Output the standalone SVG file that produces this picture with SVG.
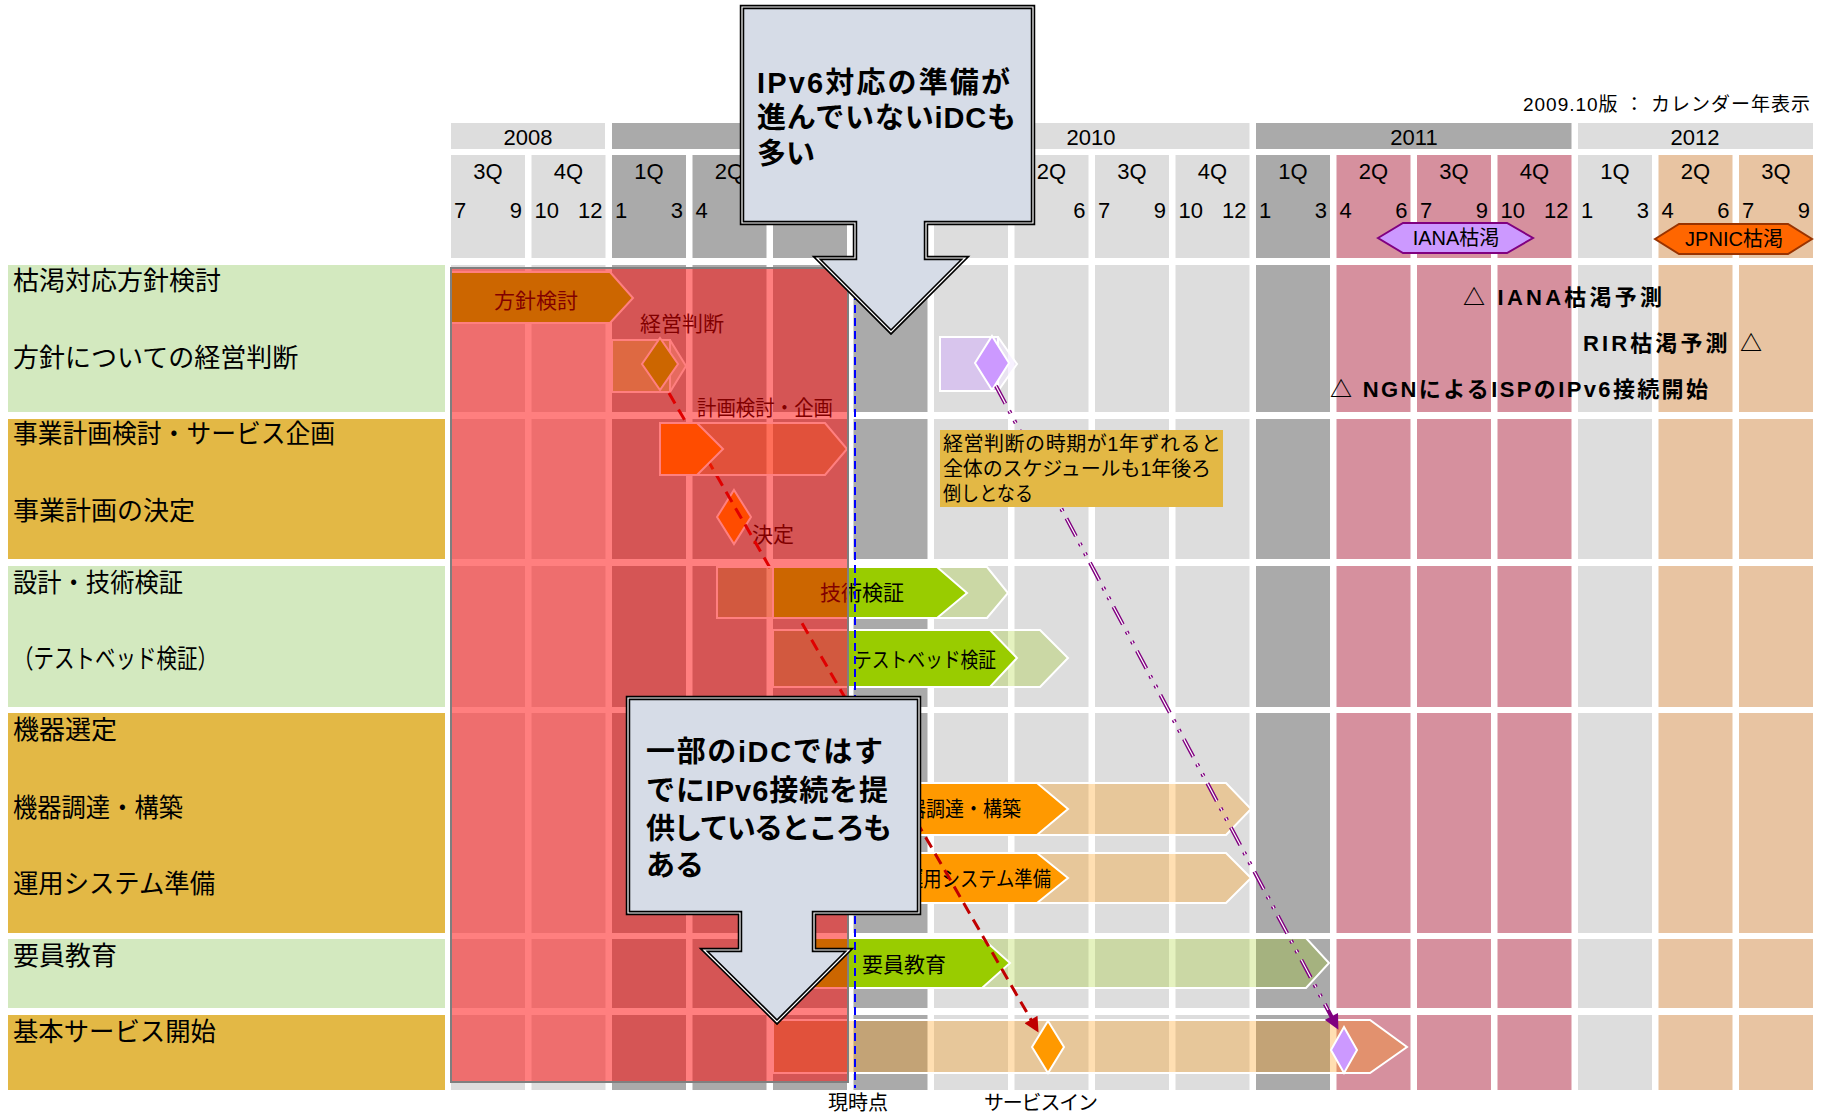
<svg xmlns="http://www.w3.org/2000/svg" width="1821" height="1114" viewBox="0 0 1821 1114">
<defs>
<style>
text{font-family:"Liberation Sans","Noto Sans CJK JP",sans-serif;fill:#000}
.hd{font-size:22px;text-anchor:middle}
.mo{font-size:22px}
.me{font-size:22px;text-anchor:end}
.lbl{font-size:26px}
.bar{font-size:21px}
.co{font-size:29px;font-weight:bold}
.ann{font-size:22px;font-weight:bold}
.L{fill:#DDDDDD}.D{fill:#AAAAAA}.P{fill:#D6909E}.E{fill:#E8C4A2}
.lg{fill:#D3E9BF}.gd{fill:#E3B845}
.sg{fill:#99CC00;stroke:#fff;stroke-width:2}
.tg{fill:#99CC00;fill-opacity:.25;stroke:#fff;stroke-width:2}
.so{fill:#FF9900;stroke:#fff;stroke-width:2}
.to{fill:#FF9600;fill-opacity:.3;stroke:#fff;stroke-width:2}
.dm{stroke:#fff;stroke-width:2}
.cf{fill:#D6DCE7;stroke:#000;stroke-width:4.5;stroke-linejoin:miter}
.ci{fill:none;stroke:#fff;stroke-width:1.2;stroke-linejoin:miter}
</style>
<marker id="arR" viewBox="0 0 10 10" refX="8" refY="5" markerWidth="17" markerHeight="15" markerUnits="userSpaceOnUse" orient="auto"><path d="M0,0 L10,5 L0,10 Z" fill="#C00000"/></marker>
<marker id="arP" viewBox="0 0 10 10" refX="8" refY="5" markerWidth="17" markerHeight="15" markerUnits="userSpaceOnUse" orient="auto"><path d="M0,0 L10,5 L0,10 Z" fill="#800080"/></marker>
</defs>
<rect width="1821" height="1114" fill="#fff"/>

<g id="title"><text x="1810" y="111" font-size="19" text-anchor="end" textLength="287">2009.10版 ： カレンダー年表示</text></g>

<g id="header">
<rect class="L" x="451" y="123" width="154" height="26"/>
<rect class="D" x="612" y="123" width="315.5" height="26"/>
<rect class="L" x="934" y="123" width="315.5" height="26"/>
<rect class="D" x="1256" y="123" width="315.5" height="26"/>
<rect class="L" x="1578" y="123" width="235" height="26"/>
<text class="hd" x="528" y="145">2008</text>
<text class="hd" x="1091" y="145">2010</text>
<text class="hd" x="1414" y="145">2011</text>
<text class="hd" x="1695" y="145">2012</text>
<rect class="L" x="451" y="155" width="74" height="103"/>
<rect class="L" x="531.5" y="155" width="74" height="103"/>
<rect class="D" x="612" y="155" width="74" height="103"/>
<rect class="D" x="692.5" y="155" width="74" height="103"/>
<rect class="D" x="773" y="155" width="74" height="103"/>
<rect class="D" x="853.5" y="155" width="74" height="103"/>
<rect class="L" x="934" y="155" width="74" height="103"/>
<rect class="L" x="1014.5" y="155" width="74" height="103"/>
<rect class="L" x="1095" y="155" width="74" height="103"/>
<rect class="L" x="1175.5" y="155" width="74" height="103"/>
<rect class="D" x="1256" y="155" width="74" height="103"/>
<rect class="P" x="1336.5" y="155" width="74" height="103"/>
<rect class="P" x="1417" y="155" width="74" height="103"/>
<rect class="P" x="1497.5" y="155" width="74" height="103"/>
<rect class="L" x="1578" y="155" width="74" height="103"/>
<rect class="E" x="1658.5" y="155" width="74" height="103"/>
<rect class="E" x="1739" y="155" width="74" height="103"/>
<text class="hd" x="488" y="179">3Q</text><text class="mo" x="454" y="218">7</text><text class="me" x="522" y="218">9</text>
<text class="hd" x="568.5" y="179">4Q</text><text class="mo" x="534.5" y="218">10</text><text class="me" x="602.5" y="218">12</text>
<text class="hd" x="649" y="179">1Q</text><text class="mo" x="615" y="218">1</text><text class="me" x="683" y="218">3</text>
<text class="hd" x="729.5" y="179">2Q</text><text class="mo" x="695.5" y="218">4</text>
<text class="hd" x="1051.5" y="179">2Q</text><text class="me" x="1085.5" y="218">6</text>
<text class="hd" x="1132" y="179">3Q</text><text class="mo" x="1098" y="218">7</text><text class="me" x="1166" y="218">9</text>
<text class="hd" x="1212.5" y="179">4Q</text><text class="mo" x="1178.5" y="218">10</text><text class="me" x="1246.5" y="218">12</text>
<text class="hd" x="1293" y="179">1Q</text><text class="mo" x="1259" y="218">1</text><text class="me" x="1327" y="218">3</text>
<text class="hd" x="1373.5" y="179">2Q</text><text class="mo" x="1339.5" y="218">4</text><text class="me" x="1407.5" y="218">6</text>
<text class="hd" x="1454" y="179">3Q</text><text class="mo" x="1420" y="218">7</text><text class="me" x="1488" y="218">9</text>
<text class="hd" x="1534.5" y="179">4Q</text><text class="mo" x="1500.5" y="218">10</text><text class="me" x="1568.5" y="218">12</text>
<text class="hd" x="1615" y="179">1Q</text><text class="mo" x="1581" y="218">1</text><text class="me" x="1649" y="218">3</text>
<text class="hd" x="1695.5" y="179">2Q</text><text class="mo" x="1661.5" y="218">4</text><text class="me" x="1729.5" y="218">6</text>
<text class="hd" x="1776" y="179">3Q</text><text class="mo" x="1742" y="218">7</text><text class="me" x="1810" y="218">9</text>
</g>

<g id="iana-depletion">
<path d="M1378,238 L1403,223 H1507 L1533,238 L1507,253 H1403 Z" fill="#CC99FF" stroke="#800080" stroke-width="2"/>
<text x="1456" y="245" font-size="20" text-anchor="middle">IANA枯渇</text>
</g>
<g id="jpnic-depletion">
<path d="M1655,239 L1679,224 H1788 L1812,239 L1788,254 H1679 Z" fill="#FF6600" stroke="#993300" stroke-width="2"/>
<text x="1734" y="246" font-size="20" text-anchor="middle">JPNIC枯渇</text>
</g>

<g id="row-labels">
<rect class="lg" x="8" y="265" width="437" height="147"/>
<rect class="gd" x="8" y="419" width="437" height="140"/>
<rect class="lg" x="8" y="566" width="437" height="141"/>
<rect class="gd" x="8" y="713" width="437" height="220"/>
<rect class="lg" x="8" y="939" width="437" height="69"/>
<rect class="gd" x="8" y="1015" width="437" height="75"/>
<text class="lbl" x="13" y="290">枯渇対応方針検討</text>
<text class="lbl" x="13" y="367">方針についての経営判断</text>
<text class="lbl" x="13" y="443" textLength="322" lengthAdjust="spacingAndGlyphs">事業計画検討・サービス企画</text>
<text class="lbl" x="13" y="520">事業計画の決定</text>
<text class="lbl" x="13" y="592" textLength="170" lengthAdjust="spacingAndGlyphs">設計・技術検証</text>
<text class="lbl" x="13" y="668" textLength="205" lengthAdjust="spacingAndGlyphs">（テストベッド検証）</text>
<text class="lbl" x="13" y="739">機器選定</text>
<text class="lbl" x="13" y="817" textLength="170" lengthAdjust="spacingAndGlyphs">機器調達・構築</text>
<text class="lbl" x="13" y="893" textLength="202" lengthAdjust="spacingAndGlyphs">運用システム準備</text>
<text class="lbl" x="13" y="965">要員教育</text>
<text class="lbl" x="13" y="1041" textLength="203" lengthAdjust="spacingAndGlyphs">基本サービス開始</text>
</g>

<g id="grid">
<rect class="L" x="451" y="265" width="74" height="825"/>
<rect class="L" x="531.5" y="265" width="74" height="825"/>
<rect class="D" x="612" y="265" width="74" height="825"/>
<rect class="D" x="692.5" y="265" width="74" height="825"/>
<rect class="D" x="773" y="265" width="74" height="825"/>
<rect class="D" x="853.5" y="265" width="74" height="825"/>
<rect class="L" x="934" y="265" width="74" height="825"/>
<rect class="L" x="1014.5" y="265" width="74" height="825"/>
<rect class="L" x="1095" y="265" width="74" height="825"/>
<rect class="L" x="1175.5" y="265" width="74" height="825"/>
<rect class="D" x="1256" y="265" width="74" height="825"/>
<rect class="P" x="1336.5" y="265" width="74" height="825"/>
<rect class="P" x="1417" y="265" width="74" height="825"/>
<rect class="P" x="1497.5" y="265" width="74" height="825"/>
<rect class="L" x="1578" y="265" width="74" height="825"/>
<rect class="E" x="1658.5" y="265" width="74" height="825"/>
<rect class="E" x="1739" y="265" width="74" height="825"/>
<g fill="#fff">
<rect x="451" y="412" width="1362" height="7"/>
<rect x="451" y="559" width="1362" height="7"/>
<rect x="451" y="707" width="1362" height="6"/>
<rect x="451" y="933" width="1362" height="6"/>
<rect x="451" y="1008" width="1362" height="7"/>
</g>
</g>

<g id="milestones-text">
<text class="ann" x="1463" y="305" textLength="199">△ IANA枯渇予測</text>
<text class="ann" x="1583" y="351" textLength="179">RIR枯渇予測 △</text>
<text class="ann" x="1330" y="397" textLength="378">△ NGNによるISPのIPv6接続開始</text>
</g>

<g id="policy-study">
<path class="sg" d="M451,272 H610 L633,298 L610,323 H451 Z"/>
<text class="bar" x="494" y="308">方針検討</text>
</g>
<g id="mgmt-decision">
<path d="M612,340 H670 L686,366 L670,392 H612 Z" fill="#EAF5D0" fill-opacity=".55" stroke="#fff" stroke-width="2"/>
<rect x="612" y="340" width="58" height="52" fill="#99CC00" fill-opacity=".3" stroke="#fff" stroke-width="2"/>
<path class="dm" d="M660,338 L678,364 L660,390 L642,364 Z" fill="#99CC00"/>
<text class="bar" x="640" y="331">経営判断</text>
</g>
<g id="mgmt-decision-delayed">
<path d="M940,337 H998 L1017,364 L998,391 H940 Z" fill="#F2E8FF" fill-opacity=".6" stroke="#fff" stroke-width="2"/>
<rect x="940" y="337" width="58" height="54" fill="#B98CE6" fill-opacity=".35" stroke="#fff" stroke-width="2"/>
<path class="dm" d="M992,336 L1009,363 L992,390 L975,363 Z" fill="#CC99FF"/>
</g>
<g id="decision">
<path class="dm" d="M734,490 L751,517 L734,544 L717,517 Z" fill="#FF9900"/>
<text class="bar" x="752" y="542">決定</text>
</g>
<g id="testbed">
<path class="tg" d="M773,630 H1040 L1068,658 L1040,687 H773 Z"/>
<path class="sg" d="M848,630 H990 L1017,658 L990,687 H848 Z"/>
<text class="bar" x="854" y="667" textLength="142" lengthAdjust="spacingAndGlyphs">テストベッド検証</text>
</g>
<g id="procurement">
<path class="to" d="M853,783 H1226 L1251,809 L1226,835 H853 Z"/>
<path class="so" d="M853,783 H1037 L1068,809 L1037,835 H853 Z"/>
<text class="bar" x="1021" y="816" text-anchor="end" textLength="133" lengthAdjust="spacingAndGlyphs">機器調達・構築</text>
</g>
<g id="ops-system">
<path class="to" d="M853,853 H1226 L1251,878 L1226,903 H853 Z"/>
<path class="so" d="M853,853 H1037 L1068,878 L1037,903 H853 Z"/>
<text class="bar" x="1051" y="886" text-anchor="end" textLength="146" lengthAdjust="spacingAndGlyphs">運用システム準備</text>
</g>
<g id="training">
<path class="tg" d="M773,938 H1306 L1329,963 L1306,988 H773 Z"/>
<path class="sg" d="M773,938 H982 L1010,963 L982,988 H773 Z"/>
<text class="bar" x="862" y="972">要員教育</text>
</g>
<g id="service-start">
<path class="to" d="M773,1020 H1370 L1407,1047 L1370,1073 H773 Z"/>
<path class="dm" d="M1048,1021 L1064,1047 L1048,1073 L1032,1047 Z" fill="#FF9900"/>
<path class="dm" d="M1344,1027 L1357,1050 L1344,1073 L1331,1050 Z" fill="#CC99FF"/>
</g>

<g id="connectors">
<path d="M669,393 L1037,1030" fill="none" stroke="#C00000" stroke-width="3" stroke-dasharray="12 7" marker-end="url(#arR)"/>
<path d="M996,386 L1337,1027" fill="none" stroke="#800080" stroke-width="4" stroke-dasharray="20 8 3 8 3 8" marker-end="url(#arP)"/>
<path d="M996,386 L1328,1010" fill="none" stroke="#fff" stroke-width="1.2" stroke-dasharray="20 8 3 8 3 8"/>
</g>

<g id="plan-study">
<path class="to" d="M660,423 H825 L847,449 L825,475 H660 Z"/>
<path class="so" d="M660,423 H697 L723,449 L697,475 H660 Z"/>
<text class="bar" x="697" y="415" textLength="136" lengthAdjust="spacingAndGlyphs">計画検討・企画</text>
</g>
<g id="tech-verify">
<path class="tg" d="M717,567 H987 L1008,593 L987,618 H717 Z"/>
<path class="sg" d="M773,567 H937 L967,593 L937,618 H773 Z"/>
<text class="bar" x="820" y="600">技術検証</text>
</g>

<g id="past-overlay">
<rect x="451" y="268" width="397" height="814" fill="#FF0000" fill-opacity=".5" stroke="#7F7F7F" stroke-width="2"/>
</g>

<g id="now-line">
<path d="M855,266 V1088" stroke="#0000FF" stroke-width="2" stroke-dasharray="8 5" fill="none"/>
<text x="858" y="1110" font-size="20" text-anchor="middle">現時点</text>
<text x="1041" y="1110" font-size="20" text-anchor="middle" textLength="114">サービスイン</text>
</g>

<g id="note">
<rect x="940" y="430" width="283" height="77" fill="#E3B845"/>
<text x="943" y="451" font-size="20" textLength="278">経営判断の時期が1年ずれると</text>
<text x="943" y="476" font-size="20" textLength="268">全体のスケジュールも1年後ろ</text>
<text x="943" y="501" font-size="20" textLength="90" lengthAdjust="spacingAndGlyphs">倒しとなる</text>
</g>

<g id="callout-top">
<path class="cf" d="M742,7 H1033 V223 H926 V258 H965 L891,332 L817,258 H855 V223 H742 Z"/>
<path class="ci" d="M742,7 H1033 V223 H926 V258 H965 L891,332 L817,258 H855 V223 H742 Z"/>
<text class="co" x="757" y="93" textLength="253">IPv6対応の準備が</text>
<text class="co" x="757" y="128" textLength="259">進んでいないiDCも</text>
<text class="co" x="757" y="164">多い</text>
</g>
<g id="callout-bottom">
<path class="cf" d="M628,698 H919 V913 H814 V950 H849 L777,1022 L704,950 H740 V913 H628 Z"/>
<path class="ci" d="M628,698 H919 V913 H814 V950 H849 L777,1022 L704,950 H740 V913 H628 Z"/>
<text class="co" x="646" y="762" textLength="237">一部のiDCではす</text>
<text class="co" x="646" y="801" textLength="242">でにIPv6接続を提</text>
<text class="co" x="646" y="839" textLength="246">供しているところも</text>
<text class="co" x="646" y="876">ある</text>
</g>
</svg>
